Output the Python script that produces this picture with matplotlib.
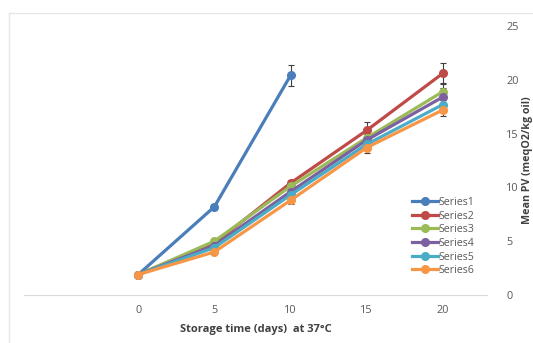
import matplotlib.pyplot as plt
from matplotlib.lines import Line2D

# storage days
days = [0, 5, 10, 15, 20]

# mean PV per series (Series1 stops at day 10)
series_names = ['Series1', 'Series2', 'Series3', 'Series4', 'Series5', 'Series6']
series1 = [1.9, 8.2, 20.4]
series2 = [1.9, 4.8, 10.4, 15.3, 20.6]
series3 = [1.9, 5.0, 10.1, 14.6, 18.9]
series4 = [1.9, 4.6, 9.6, 14.4, 18.4]
series5 = [1.9, 4.4, 9.3, 14.0, 17.7]
series6 = [1.9, 4.0, 8.8, 13.7, 17.2]

# error bar half-widths
err1 = [0.1, 0.3, 1.0]
err2 = [0.1, 0.2, 0.3, 0.8, 1.0]
err3 = [0.1, 0.2, 0.3, 0.6, 0.8]
err4 = [0.1, 0.2, 0.3, 0.6, 0.8]
err5 = [0.1, 0.2, 0.3, 0.5, 0.7]
err6 = [0.1, 0.2, 0.3, 0.5, 0.6]

colors = ['#4A7EBB', '#BE4B48', '#9BBB59', '#7D60A0', '#4BACC6', '#F79646']

plt.rcParams['font.family'] = ['Open Sans', 'DejaVu Sans']

fig = plt.figure(figsize=(5.33, 3.43), dpi=100)
ax = fig.add_axes([24/533, 48/343, 463/533, 269/343])

all_vals = [series1, series2, series3, series4, series5, series6]
all_errs = [err1, err2, err3, err4, err5, err6]
handles = []
for name, vals, errs, c in zip(series_names, all_vals, all_errs, colors):
    x = days[:len(vals)]
    ax.errorbar(x, vals, yerr=errs, color=c, lw=2.3, marker='o', ms=5.5,
                ecolor='#404040', elinewidth=0.8, capsize=2.5, capthick=0.8)
    handles.append(Line2D([], [], color=c, lw=2.3, marker='o', ms=5.5, label=name))

ax.set_xlim(-7.5, 22.9)
ax.set_ylim(0, 25)
ax.set_xticks(days)
ax.set_yticks([0, 5, 10, 15, 20, 25])
ax.yaxis.tick_right()
ax.yaxis.set_label_position('right')
for s in ['top', 'left', 'right']:
    ax.spines[s].set_visible(False)
ax.spines['bottom'].set_color('#D9D9D9')
ax.spines['bottom'].set_linewidth(0.8)
ax.tick_params(length=0, labelsize=7.8, colors='#595959', pad=7)
ax.tick_params(axis='y', pad=14)
ax.set_xlabel('Storage time (days)  at 37°C', fontsize=8, fontweight='bold',
              color='#404040', labelpad=6)
ax.set_ylabel('Mean PV (meqO2/kg oil)', fontsize=7.7, fontweight='bold',
              color='#404040')
ax.yaxis.set_label_coords(1.075, 0.5)

leg = ax.legend(handles=handles, loc='lower right', bbox_to_anchor=(0.985, 0.05),
                frameon=False, fontsize=7.7, labelcolor='#595959', handlelength=2.4,
                handletextpad=0.1, labelspacing=0.25, borderpad=0)

# light chart border
fig.add_artist(Line2D([9/533, 1], [1 - 13/343, 1 - 13/343], color='#E6E6E6', lw=1))
fig.add_artist(Line2D([9/533, 9/533], [0, 1 - 13/343], color='#E6E6E6', lw=1))

fig.savefig('out.png', dpi=100)
